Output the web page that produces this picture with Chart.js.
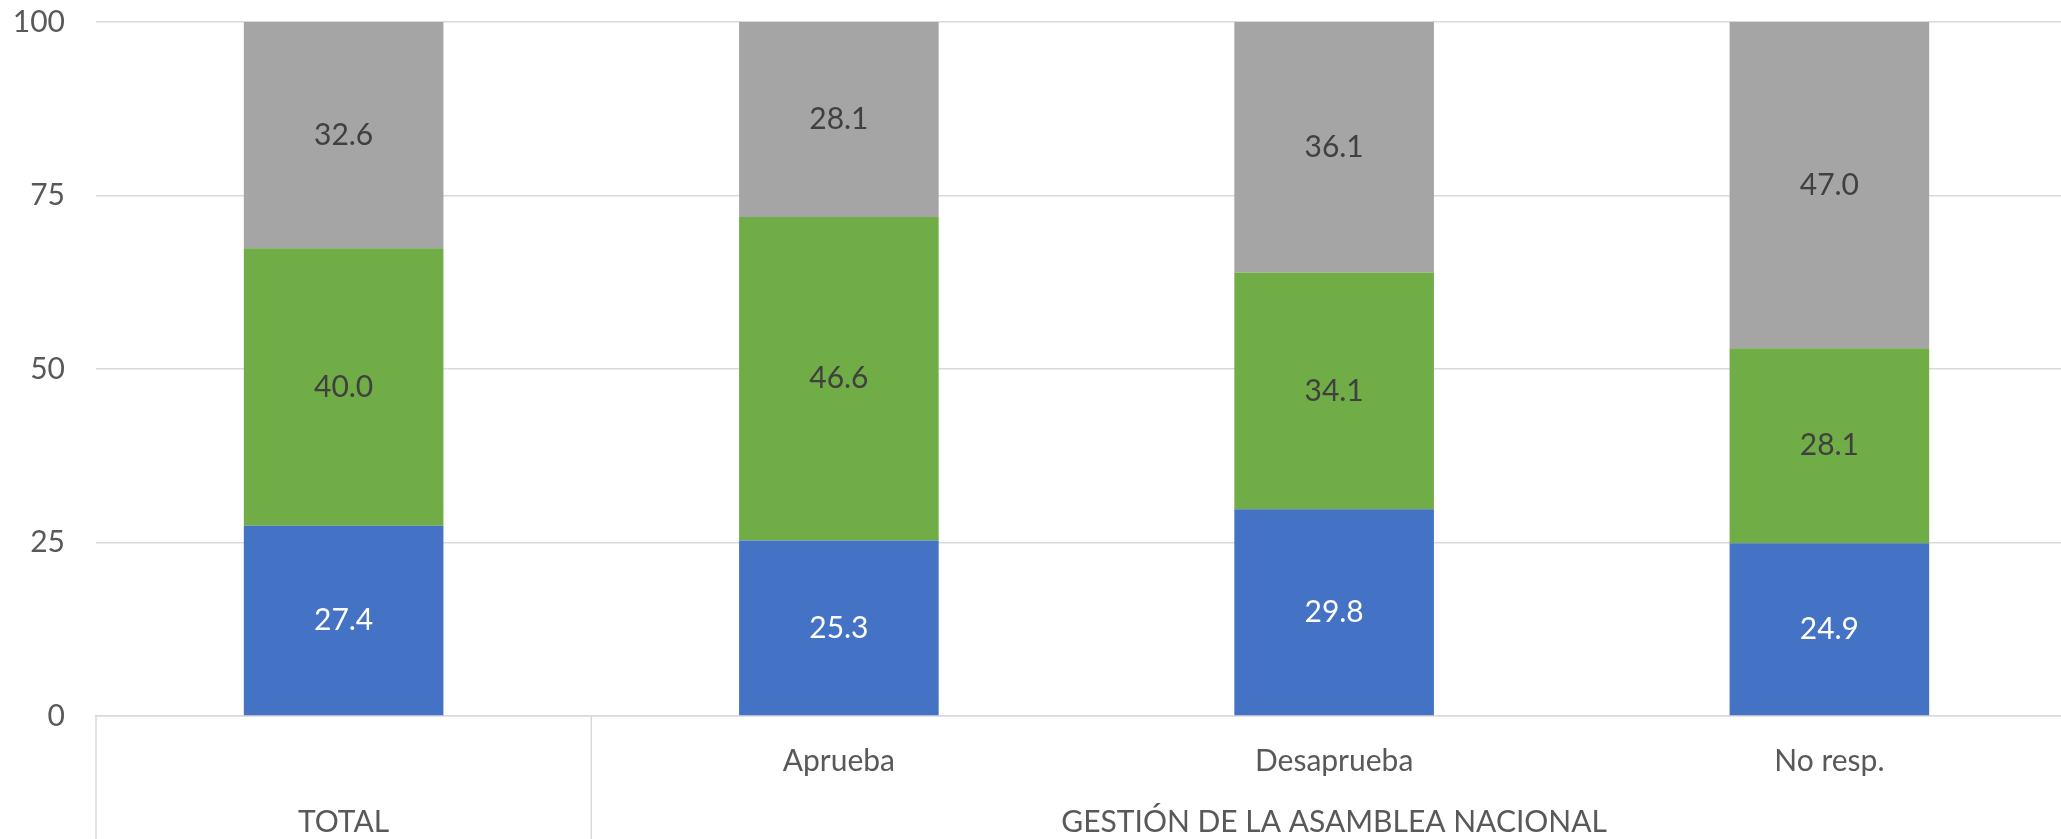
<!DOCTYPE html>
<html>
<head>
<meta charset="utf-8">
<script src="https://cdn.jsdelivr.net/npm/chart.js@4"></script>
<style>
    html, body { margin: 0; padding: 0; background: #fff; overflow: hidden; }
    .chart-container { width: 2077px; height: 839px; }
</style>
</head>
<body>
<div class="chart-container"><canvas class="my-chart"></canvas></div>
<script>
const categories = ['', 'Aprueba', 'Desaprueba', 'No resp.'];
const groupLabels = ['TOTAL', 'GESTIÓN DE LA ASAMBLEA NACIONAL'];
const groupSpans = [1, 3];

const blueValues = [27.4, 25.3, 29.8, 24.9];
const greenValues = [40.0, 46.6, 34.1, 28.1];
const grayValues = [32.6, 28.1, 36.1, 47.0];

const yTicks = [0, 25, 50, 75, 100];

const fontFamily = 'Lato, "Open Sans", sans-serif';
const myChart = document.querySelector('.my-chart');

// values written in the middle of each segment
const segmentLabels = {
    id: 'segmentLabels',
    afterDatasetsDraw(chart) {
        const ctx = chart.ctx;
        ctx.save();
        ctx.font = '30px ' + fontFamily;
        ctx.textAlign = 'center';
        ctx.textBaseline = 'middle';
        chart.data.datasets.forEach((ds, i) => {
            const meta = chart.getDatasetMeta(i);
            meta.data.forEach((bar, j) => {
                ctx.fillStyle = ds.labelColor;
                ctx.fillText(ds.data[j].toFixed(1), bar.x, (bar.y + bar.base) / 2);
            });
        });
        ctx.restore();
    }
};

// second row of the category axis: group names and the box lines
const groupAxis = {
    id: 'groupAxis',
    afterDraw(chart) {
        const ctx = chart.ctx;
        const x = chart.scales.x;
        const bottom = chart.chartArea.bottom;
        const step = x.width / categories.length;
        ctx.save();
        ctx.strokeStyle = '#d9d9d9';
        ctx.lineWidth = 1.5;
        ctx.fillStyle = '#595959';
        ctx.font = '30px ' + fontFamily;
        ctx.textAlign = 'center';
        ctx.textBaseline = 'middle';
        let start = 0;
        groupLabels.forEach((label, g) => {
            const end = start + groupSpans[g] - 1;
            const left = x.getPixelForValue(start) - step / 2;
            const right = x.getPixelForValue(end) + step / 2;
            ctx.beginPath();
            ctx.moveTo(left, bottom);
            ctx.lineTo(left, chart.height);
            ctx.stroke();
            ctx.fillText(label, (left + right) / 2, bottom + 106);
            start = end + 1;
        });
        ctx.restore();
    }
};

new Chart(myChart, {
    type: 'bar',
    data: {
        labels: categories,
        datasets: [
            { label: 'Serie 1', data: blueValues, backgroundColor: '#4472C4', labelColor: '#ffffff' },
            { label: 'Serie 2', data: greenValues, backgroundColor: '#70AD47', labelColor: '#404040' },
            { label: 'Serie 3', data: grayValues, backgroundColor: '#A5A5A5', labelColor: '#404040' }
        ]
    },
    options: {
        responsive: true,
        maintainAspectRatio: false,
        animation: false,
        layout: { padding: { top: 22, right: 0, bottom: 0, left: 0 } },
        datasets: {
            bar: { barPercentage: 0.403, categoryPercentage: 1 }
        },
        plugins: {
            legend: { display: false },
            tooltip: { enabled: false }
        },
        scales: {
            x: {
                stacked: true,
                grid: { display: false },
                border: { display: true, color: '#d9d9d9', width: 1.5 },
                ticks: {
                    color: '#595959',
                    font: { family: fontFamily, size: 30 },
                    padding: 19
                },
                afterFit: s => { s.height = 123; }
            },
            y: {
                stacked: true,
                min: 0,
                max: 100,
                afterBuildTicks: s => { s.ticks = yTicks.map(v => ({ value: v })); },
                grid: { color: '#d9d9d9', lineWidth: 1.5, drawTicks: false },
                border: { display: false },
                ticks: {
                    color: '#595959',
                    font: { family: fontFamily, size: 30 },
                    padding: 31
                },
                afterFit: s => {
                    s.width = 96;
                    s.paddingTop = 0;
                    s.paddingBottom = 0;
                }
            }
        }
    },
    plugins: [segmentLabels, groupAxis]
});
</script>
</body>
</html>
